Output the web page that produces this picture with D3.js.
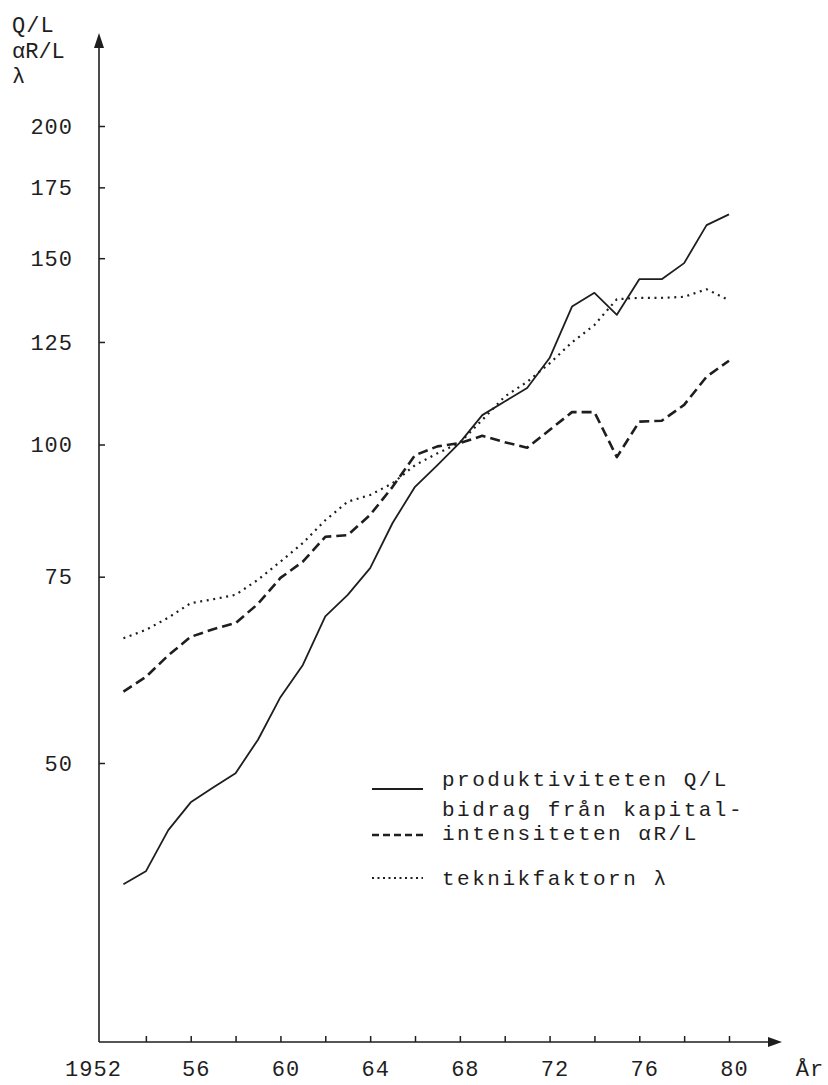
<!DOCTYPE html>
<html>
<head>
<meta charset="utf-8">
<script src="https://cdn.jsdelivr.net/npm/d3@7"></script>
<style>
body { margin: 0; background: #fff; }
text { font-family: "Liberation Mono", monospace; fill: #1e1e1e; }
</style>
</head>
<body>
<div id="chart"></div>
<script>
// index values, 1968 = 100, log scale
var years = [1953,1954,1955,1956,1957,1958,1959,1960,1961,1962,1963,1964,1965,1966,
             1967,1968,1969,1970,1971,1972,1973,1974,1975,1976,1977,1978,1979,1980];
var produktivitet = [38.4,39.5,43.2,45.9,47.4,48.9,52.6,57.7,61.9,68.8,72.1,76.4,84.3,91.2,
                     95.6,100.4,106.6,109.8,113.1,120.7,135.0,139.1,132.6,143.3,143.3,148.4,161.2,165.0];
var kapital = [58.4,60.3,63.2,65.8,66.9,67.8,70.7,74.8,77.5,81.8,82.1,85.8,91.2,97.7,
               99.6,100.3,101.9,100.5,99.3,103.2,107.3,107.3,97.3,105.1,105.3,109.0,115.9,120.0];
var teknik = [65.6,66.8,68.6,70.8,71.4,72.1,74.5,77.5,80.7,84.8,88.3,89.6,91.9,95.6,
              98.1,100.4,105.5,111.0,114.6,119.3,124.9,129.7,137.2,137.6,137.6,137.9,140.2,136.9];

var yTicks = [50, 75, 100, 125, 150, 175, 200];
var xTicks = d3.range(1952, 1981, 2);
var yTitle = ["Q/L", "\u03b1R/L", "\u03bb"];
var legendItems = [
    {lines: ["produktiviteten Q/L"], dash: null, width: 1.8},
    {lines: ["bidrag fr\u00e5n kapital-", "intensiteten \u03b1R/L"], dash: "7,4", width: 2.6},
    {lines: ["teknikfaktorn \u03bb"], dash: "2,3.5", width: 2}
];

var width = 828, height = 1085;
var axisX = 99, axisY = 1042;

var svg = d3.select("#chart")
    .append("svg")
    .attr("width", width)
    .attr("height", height);

var x = d3.scaleLinear().domain([1952, 1980]).range([101, 729]);
var y = d3.scaleLog().domain([50, 200]).range([763, 126]);

// axis lines with arrow heads
svg.append("line")
    .attr("x1", axisX).attr("y1", axisY)
    .attr("x2", axisX).attr("y2", 40)
    .style("stroke", "#1e1e1e").style("stroke-width", 1.6);
svg.append("path")
    .attr("d", "M" + (axisX - 5) + ",48 L" + axisX + ",33 L" + (axisX + 5) + ",48 Z")
    .style("fill", "#1e1e1e");
svg.append("line")
    .attr("x1", axisX).attr("y1", axisY)
    .attr("x2", 772).attr("y2", axisY)
    .style("stroke", "#1e1e1e").style("stroke-width", 1.6);
svg.append("path")
    .attr("d", "M768," + (axisY - 5) + " L782," + axisY + " L768," + (axisY + 5) + " Z")
    .style("fill", "#1e1e1e");

// y axis
var yAxis = svg.append("g")
    .attr("transform", "translate(" + axisX + ",0)")
    .call(d3.axisLeft(y)
        .tickValues(yTicks)
        .tickSize(-6)
        .tickPadding(26)
        .tickFormat(d3.format("d")));
yAxis.select(".domain").remove();
yAxis.selectAll("line").style("stroke", "#1e1e1e").style("stroke-width", 1.5);
yAxis.selectAll("text")
    .style("font-size", "22px")
    .style("letter-spacing", "1px")
    .style("fill", "#1e1e1e")
    .style("font-family", "Liberation Mono, monospace");

// x axis
var xAxis = svg.append("g")
    .attr("transform", "translate(0," + axisY + ")")
    .call(d3.axisBottom(x)
        .tickValues(xTicks)
        .tickSize(-6)
        .tickPadding(18)
        .tickFormat(function(d) {
            if (d % 4) return "";
            return d === 1952 ? "1952" : String(d).slice(2);
        }));
xAxis.select(".domain").remove();
xAxis.selectAll(".tick line")
    .style("stroke", "#1e1e1e").style("stroke-width", 1.5)
    .style("display", function(d) { return d === 1952 ? "none" : null; });
xAxis.selectAll("text")
    .style("font-size", "22px")
    .style("letter-spacing", "1px")
    .style("fill", "#1e1e1e")
    .style("font-family", "Liberation Mono, monospace")
    .attr("dx", function(d) { return d === 1952 ? -8 : 5; });

svg.append("text")
    .attr("x", 810).attr("y", 1076)
    .attr("text-anchor", "middle")
    .style("font-size", "22px")
    .style("letter-spacing", "1px")
    .text("\u00c5r");

// y title
svg.append("g").selectAll("text")
    .data(yTitle)
    .enter().append("text")
    .attr("x", 12)
    .attr("y", function(d, i) { return 32 + i * 25.5; })
    .style("font-size", "22px")
    .style("letter-spacing", function(d, i) { return i === 1 ? "0px" : "1px"; })
    .text(function(d) { return d; });

// series
var line = d3.line()
    .x(function(d) { return x(d[0]); })
    .y(function(d) { return y(d[1]); });

var series = [
    {values: produktivitet, dash: null, width: 1.8},
    {values: kapital, dash: "10,5", width: 2.6},
    {values: teknik, dash: "2,4.6", width: 2.2}
];

svg.append("g").selectAll("path")
    .data(series)
    .enter().append("path")
    .attr("d", function(s) { return line(d3.zip(years, s.values)); })
    .style("fill", "none")
    .style("stroke", "#1e1e1e")
    .style("stroke-width", function(s) { return s.width; })
    .style("stroke-dasharray", function(s) { return s.dash; })
    .style("stroke-linejoin", "round");

// legend
var legendRows = [{sample: 789, base: 786}, {sample: 835, base: 816}, {sample: 878, base: 885}];
var legend = svg.append("g");
legendItems.forEach(function(item, i) {
    legend.append("line")
        .attr("x1", 372).attr("x2", 423)
        .attr("y1", legendRows[i].sample).attr("y2", legendRows[i].sample)
        .style("stroke", "#1e1e1e")
        .style("stroke-width", item.width)
        .style("stroke-dasharray", item.dash);
    item.lines.forEach(function(t, j) {
        legend.append("text")
            .attr("x", 442)
            .attr("y", legendRows[i].base + j * 24)
            .style("font-size", "21px")
            .style("letter-spacing", "2.5px")
            .text(t);
    });
});
</script>
</body>
</html>
